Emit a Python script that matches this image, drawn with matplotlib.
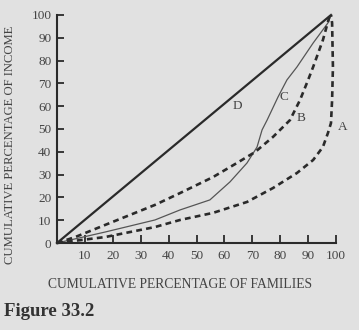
import matplotlib
matplotlib.use("Agg")
from matplotlib import pyplot as plt

# Lorenz curves (percent of families, percent of income)
lineD_x = [0, 98.2]
lineD_y = [0, 100]

curveC_x = [0, 17.2, 35.1, 44.1, 54.8, 62.0, 68.1, 71.7, 73.5, 75.3, 79.2, 82.4, 86.0, 91.8, 97.1, 98.2]
curveC_y = [0, 4.8, 10.1, 14.5, 18.9, 26.8, 35.1, 42.1, 49.6, 53.9, 64.0, 71.5, 77.2, 87.7, 96.5, 100]

curveB_x = [0, 6.5, 17.2, 35.1, 44.1, 55.9, 64.5, 71.0, 77.4, 83.5, 87.1, 90.0, 91.8, 95.3, 97.8]
curveB_y = [0, 2.6, 7.9, 16.7, 21.9, 28.9, 35.1, 39.9, 46.5, 53.9, 62.7, 71.5, 77.2, 89.0, 100]

curveA_x = [0, 17.2, 35.1, 44.1, 55.9, 68.1, 77.4, 86.0, 91.8, 95.3, 97.1, 98.2, 98.6, 98.9, 98.6, 98.2]
curveA_y = [0, 2.6, 7.0, 10.1, 13.2, 18.0, 24.1, 30.7, 36.4, 42.1, 48.2, 52.6, 62.7, 77.2, 96.5, 100]

ticks = [10, 20, 30, 40, 50, 60, 70, 80, 90, 100]
yticks = [0, 10, 20, 30, 40, 50, 60, 70, 80, 90, 100]

bg = "#e1e1e1"
ink = "#2a2a2a"
plt.rcParams['font.family'] = ['Liberation Serif', 'DejaVu Serif']

fig = plt.figure(figsize=(3.59, 3.30), dpi=100, facecolor=bg)
ax = fig.add_axes([57 / 359, 1 - 243 / 330, 279 / 359, 228 / 330], facecolor=bg)

dash = (0, (2.2, 1.6))
ax.plot(lineD_x, lineD_y, color=ink, linewidth=1.6, clip_on=False)
ax.plot(curveC_x, curveC_y, color="#555555", linewidth=0.9, clip_on=False)
ax.plot(curveB_x, curveB_y, color=ink, linewidth=1.9, linestyle=dash, clip_on=False)
ax.plot(curveA_x, curveA_y, color=ink, linewidth=1.9, linestyle=dash, clip_on=False)

ax.text(64.5, 60, "D", fontsize=9.5, color="#444444", ha="center", va="center")
ax.text(81.5, 64, "C", fontsize=9.5, color="#444444", ha="center", va="center")
ax.text(87.5, 55, "B", fontsize=9.5, color="#444444", ha="center", va="center")
ax.text(102.5, 51, "A", fontsize=9.5, color="#444444", ha="center", va="center")

ax.set_xlim(0, 100)
ax.set_ylim(0, 100)
for side in ["top", "right"]:
    ax.spines[side].set_visible(False)
for side in ["left", "bottom"]:
    ax.spines[side].set_color(ink)
    ax.spines[side].set_linewidth(1.5)

ax.set_xticks(ticks)
ax.set_yticks(yticks)
ax.tick_params(axis="x", direction="in", length=6, width=1.3, color=ink, labelsize=9.5,
               labelcolor="#444444", pad=5)
ax.tick_params(axis="y", direction="in", length=5, width=1.3, color=ink, labelsize=9.5,
               labelcolor="#444444", pad=4)
ax.yaxis.get_major_ticks()[0].tick1line.set_visible(False)

fig.text(180 / 359, 1 - 284 / 330, "CUMULATIVE PERCENTAGE OF FAMILIES", fontsize=9.8,
         color="#444444", ha="center", va="center")
fig.text(10 / 359, 1 - 145 / 330, "CUMULATIVE PERCENTAGE OF INCOME", fontsize=9.1,
         color="#444444", ha="center", va="center", rotation=90)
fig.text(4 / 359, 1 - 312 / 330, "Figure 33.2", fontsize=13.5, fontweight="bold",
         color="#333333", ha="left", va="center")

fig.savefig("out.png", dpi=100, facecolor=bg)
